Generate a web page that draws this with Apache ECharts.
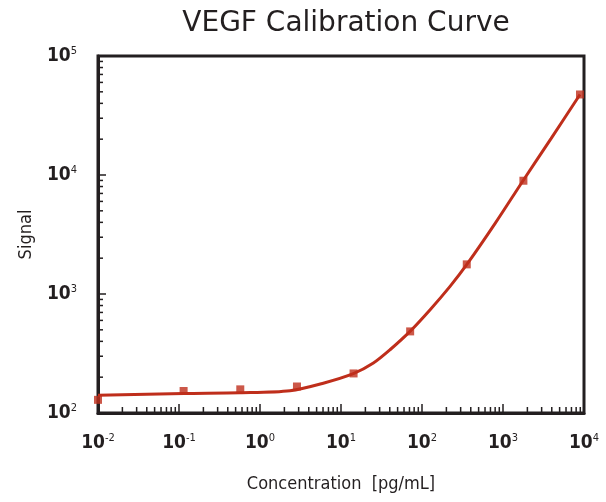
<!DOCTYPE html>
<html>
<head>
<meta charset="utf-8">
<script src="https://cdn.jsdelivr.net/npm/echarts@6/dist/echarts.min.js"></script>
<style>
  html, body { margin: 0; padding: 0; background: #fff; }
  #chart { width: 606px; height: 502px; }
</style>
</head>
<body>
<div id="chart"></div>
<script>
// measured standards (5-fold dilution series)
var concentration = [0.01, 0.114, 0.571, 2.86, 14.3, 71.4, 357, 1786, 8929];
var signal = [129, 153, 158, 167, 215, 485, 1774, 8950, 47500];

// fitted curve
var fitConc = [0.01, 0.115, 0.566, 2.35, 6.04, 14.2, 25.1, 40.3, 71.1, 126, 222, 356, 796, 1766, 3917, 8930];
var fitSignal = [141, 146, 148, 154, 178, 214, 263, 340, 485, 738, 1159, 1762, 3900, 8950, 20200, 47500];

// axis decades and minor tick multipliers
var xDecades = [0.01, 0.1, 1, 10, 100, 1000];
var yDecades = [100, 1000, 10000];
var minorSteps = [2, 3, 4, 5, 6, 7, 8, 9];

var ink = '#231f20';
var red = '#bf2e1b';
var font = '"DejaVu Sans Condensed", sans-serif';

function minorList(decades) {
    var out = [];
    decades.forEach(function (d) {
        minorSteps.forEach(function (m) { out.push([+(d * m).toPrecision(3)]); });
    });
    return out;
}

function powLabel(value) {
    var e = Math.round(Math.log10(value));
    return '{b|10}{sup|' + e + '}';
}

var labelRich = {
    b: { fontFamily: font, fontSize: 19, color: ink, fontWeight: 'bold' },
    sup: { fontFamily: font, fontSize: 11, color: ink, verticalAlign: 'top', padding: [0, 0, 9, 0] }
};

var myChart = echarts.init(document.getElementById('chart'));

var option = {
    animation: false,
    title: {
        text: 'VEGF Calibration Curve',
        left: 341,
        top: 5,
        textAlign: 'center',
        textStyle: { fontFamily: '"DejaVu Sans", sans-serif', fontSize: 28, fontWeight: 'normal', color: ink }
    },
    grid: {
        left: 98, right: 22, top: 56, bottom: 89,
        show: true, borderColor: ink, borderWidth: 3
    },
    xAxis: {
        type: 'log',
        logBase: 10,
        min: 0.01,
        max: 10000,
        interval: 1,
        name: 'Concentration  [pg/mL]',
        nameLocation: 'middle',
        nameGap: 62,
        nameTextStyle: { fontFamily: font, fontSize: 18, color: ink },
        axisLine: { lineStyle: { color: ink, width: 3 } },
        axisTick: { inside: true, length: 9, lineStyle: { color: ink, width: 1.5 } },
        axisLabel: { margin: 20, formatter: powLabel, rich: labelRich },
        splitLine: { show: false }
    },
    yAxis: {
        type: 'log',
        logBase: 10,
        min: 100,
        max: 100000,
        interval: 1,
        name: 'Signal',
        nameLocation: 'middle',
        nameGap: 63,
        nameTextStyle: { fontFamily: font, fontSize: 18, color: ink },
        axisLine: { lineStyle: { color: ink, width: 3 } },
        axisTick: { inside: true, length: 8, lineStyle: { color: ink, width: 1.5 } },
        axisLabel: { margin: 21, formatter: powLabel, rich: labelRich },
        splitLine: { show: false }
    },
    series: [
        {
            // minor ticks on the x axis
            type: 'custom',
            silent: true,
            data: minorList(xDecades),
            renderItem: function (params, api) {
                var p = api.coord([api.value(0), 100]);
                return {
                    type: 'line',
                    shape: { x1: p[0], y1: p[1], x2: p[0], y2: p[1] - 6 },
                    style: { stroke: ink, lineWidth: 1.5 }
                };
            }
        },
        {
            // minor ticks on the y axis
            type: 'custom',
            silent: true,
            data: minorList(yDecades),
            renderItem: function (params, api) {
                var p = api.coord([0.01, api.value(0)]);
                return {
                    type: 'line',
                    shape: { x1: p[0], y1: p[1], x2: p[0] + 5, y2: p[1] },
                    style: { stroke: ink, lineWidth: 1.5 }
                };
            },
            encode: { x: -1, y: 0 }
        },
        {
            name: 'fit',
            type: 'line',
            data: fitConc.map(function (c, i) { return [c, fitSignal[i]]; }),
            smooth: 0.3,
            showSymbol: false,
            lineStyle: { color: red, width: 3 },
            z: 3
        },
        {
            name: 'standards',
            type: 'scatter',
            data: concentration.map(function (c, i) { return [c, signal[i]]; }),
            symbol: 'rect',
            symbolSize: 8,
            clip: false,
            itemStyle: { color: red },
            z: 4
        }
    ]
};

myChart.setOption(option);
</script>
</body>
</html>
